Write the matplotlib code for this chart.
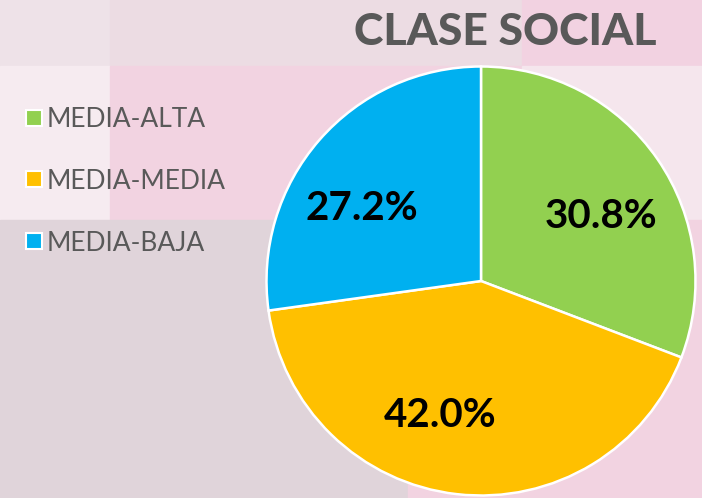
import matplotlib.pyplot as plt
from matplotlib.patches import Rectangle
from matplotlib.lines import Line2D

categories = ["MEDIA-ALTA", "MEDIA-MEDIA", "MEDIA-BAJA"]
shares = [30.8, 42.0, 27.2]
colors = ["#92d050", "#ffc000", "#00b0f0"]
title = "CLASE SOCIAL"

W, H = 702, 498
fig = plt.figure(figsize=(W / 100, H / 100), dpi=100)

# background patchwork (pixel boxes: x0, y0 from top, x1, y1, colour)
tiles = [
    (0, 0, 110, 66, "#eee2e8"),
    (110, 0, 522, 66, "#ecdce3"),
    (522, 0, 702, 66, "#f2d2e1"),
    (0, 66, 110, 220, "#f6ebf0"),
    (110, 66, 522, 220, "#f2d3e1"),
    (522, 66, 702, 220, "#f5e6ed"),
    (0, 220, 408, 498, "#e0d4da"),
    (408, 220, 702, 498, "#f2d3e1"),
]
for x0, y0, x1, y1, c in tiles:
    fig.patches.append(Rectangle((x0 / W, 1 - y1 / H), (x1 - x0) / W, (y1 - y0) / H,
                                 transform=fig.transFigure, color=c, zorder=-10))

# pie
cx, cy, r = 481, 281, 214.5
ax = fig.add_axes([(cx - r) / W, 1 - (cy + r) / H, 2 * r / W, 2 * r / H])
wedges, _, autotexts = ax.pie(shares, colors=colors, startangle=90, counterclock=False,
                              autopct="%.1f%%", pctdistance=0.65,
                              wedgeprops=dict(edgecolor="white", linewidth=1.8),
                              textprops=dict(fontsize=29, fontweight="bold", color="black",
                                             family=["Lato", "DejaVu Sans"]))
label_pos = [(0.56, 0.30), (-0.19, -0.625), (-0.555, 0.34)]
for t, p in zip(autotexts, label_pos):
    t.set_position(p)
ax.set_xlim(-1, 1)
ax.set_ylim(-1, 1)
ax.set_aspect("equal")
ax.axis("off")

fig.text(505 / W, 1 - 32 / H, title, ha="center", va="center", fontsize=32,
         fontweight="black", color="#595959", family=["Lato", "DejaVu Sans"])

handles = [Line2D([], [], marker="s", linestyle="none", markersize=11, markerfacecolor=c,
                  markeredgecolor="white", markeredgewidth=1.5) for c in colors]
leg = fig.legend(handles, categories, loc="upper left", bbox_to_anchor=(3 / W, 1 - 83 / H),
                 frameon=False, handlelength=0.55, handletextpad=0.22, labelspacing=1.40,
                 prop=dict(family=["Lato", "DejaVu Sans"], size=19))
for t in leg.get_texts():
    t.set_color("#595959")

fig.savefig("out.png", dpi=100)
